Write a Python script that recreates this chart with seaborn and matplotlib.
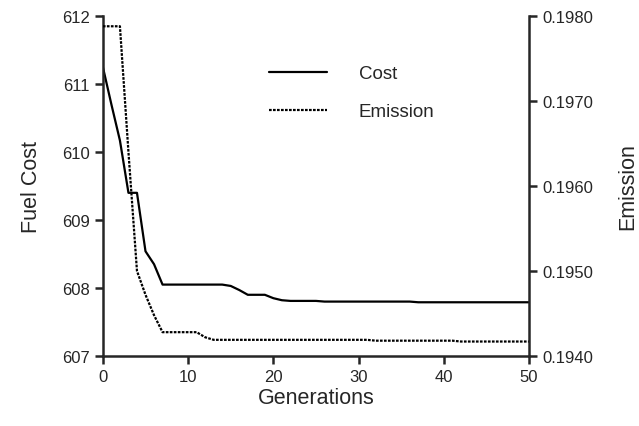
import seaborn as sns
import matplotlib.pyplot as plt
import pandas as pd

generations = list(range(0, 51))
cost = [611.25, 610.70, 610.17, 609.40, 609.40, 608.54, 608.35, 608.05, 608.05, 608.05,
        608.05, 608.05, 608.05, 608.05, 608.05, 608.03, 607.97, 607.90, 607.90, 607.90,
        607.85, 607.82, 607.81, 607.81, 607.81, 607.81, 607.80, 607.80, 607.80, 607.80,
        607.80, 607.80, 607.80, 607.80, 607.80, 607.80, 607.80, 607.79, 607.79, 607.79,
        607.79, 607.79, 607.79, 607.79, 607.79, 607.79, 607.79, 607.79, 607.79, 607.79,
        607.79]
emission = [0.19788, 0.19788, 0.19788, 0.19640, 0.19500, 0.19472, 0.19448, 0.19428, 0.19428, 0.19428,
            0.19428, 0.19428, 0.19422, 0.19419, 0.19419, 0.19419, 0.19419, 0.19419, 0.19419, 0.19419,
            0.19419, 0.19419, 0.19419, 0.19419, 0.19419, 0.19419, 0.19419, 0.19419, 0.19419, 0.19419,
            0.19419, 0.19419, 0.19418, 0.19418, 0.19418, 0.19418, 0.19418, 0.19418, 0.19418, 0.19418,
            0.19418, 0.19418, 0.19417, 0.19417, 0.19417, 0.19417, 0.19417, 0.19417, 0.19417, 0.19417,
            0.19417]

df = pd.DataFrame({"Generations": generations, "Cost": cost, "Emission": emission})

sns.set_style("ticks")
plt.rcParams["font.family"] = ["Liberation Sans", "DejaVu Sans"]

fig = plt.figure(figsize=(6.39, 4.27), dpi=100)
ax = fig.add_axes([0.161, 0.164, 0.667, 0.796])
ax2 = ax.twinx()

sns.lineplot(data=df, x="Generations", y="Cost", ax=ax, color="black", lw=1.6, label="Cost", legend=False)
sns.lineplot(data=df, x="Generations", y="Emission", ax=ax2, color="black", lw=1.6,
             linestyle=(0, (1.2, 0.6)), label="Emission", legend=False)

ax.set_xlim(0, 50)
ax.set_ylim(607, 612)
ax2.set_ylim(0.1940, 0.1980)
ax.set_xticks([0, 10, 20, 30, 40, 50])
ax.set_yticks([607, 608, 609, 610, 611, 612])
ax2.set_yticks([0.1940, 0.1950, 0.1960, 0.1970, 0.1980])
ax2.set_yticklabels(["0.1940", "0.1950", "0.1960", "0.1970", "0.1980"])

for a in (ax, ax2):
    a.spines["top"].set_visible(False)
    for s in a.spines.values():
        s.set_linewidth(1.8)
    a.tick_params(width=1.8, length=6, labelsize=12, direction="out")
ax.spines["right"].set_visible(False)
ax2.spines["left"].set_visible(False)
ax2.spines["bottom"].set_visible(False)

ax.set_xlabel("Generations", fontsize=15.5, labelpad=2)
ax.set_ylabel("Fuel Cost", fontsize=15.5, labelpad=14)
ax2.set_ylabel("Emission", fontsize=15.5, labelpad=17)

h1, l1 = ax.get_legend_handles_labels()
h2, l2 = ax2.get_legend_handles_labels()
ax.legend(h1 + h2, l1 + l2, loc="upper left", bbox_to_anchor=(0.35, 0.905), frameon=False,
          handlelength=3.1, handletextpad=1.7, labelspacing=1.1, fontsize=13.5)

fig.savefig("out.png", dpi=100)
